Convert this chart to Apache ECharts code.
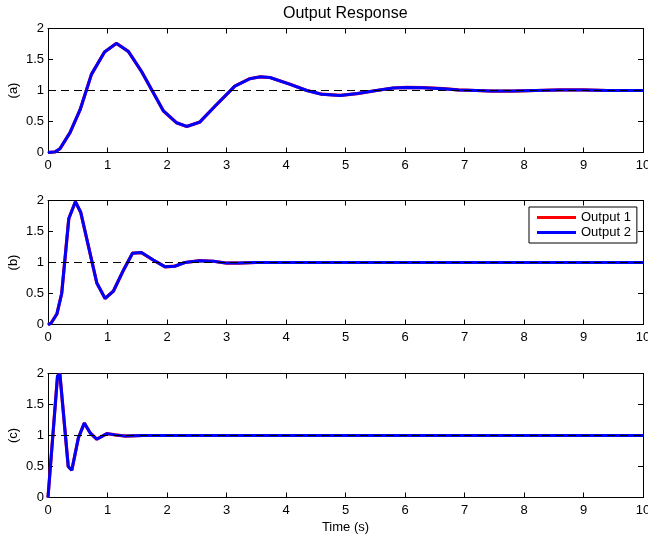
<!DOCTYPE html>
<html>
<head>
<meta charset="utf-8">
<script src="https://cdn.jsdelivr.net/npm/echarts@6/dist/echarts.min.js"></script>
<style>
html,body{margin:0;padding:0;background:#fff;}
#chart{width:648px;height:535px;}
</style>
</head>
<body>
<div id="chart"></div>
<script>
// ---- Data ----
const titleText = 'Output Response';
const panelLabels = ['(a)', '(b)', '(c)'];
const xLabel = 'Time (s)';
const seriesNames = ['Output 1', 'Output 2'];

const timeA = [0, 0.12, 0.2, 0.37, 0.54, 0.73, 0.95, 1.15, 1.35, 1.57, 1.94, 2.16, 2.33, 2.55, 2.83, 3.14, 3.39, 3.56, 3.73, 4.07, 4.35, 4.6, 4.91, 5.2, 5.52, 5.8, 6.03, 6.3, 6.64, 6.9, 7.2, 7.45, 7.8, 8.2, 8.6, 9.0, 9.4, 9.8, 10];
const respA = [0, 0.01, 0.06, 0.32, 0.69, 1.26, 1.62, 1.76, 1.63, 1.31, 0.67, 0.48, 0.42, 0.49, 0.77, 1.07, 1.19, 1.22, 1.21, 1.10, 1.0, 0.94, 0.92, 0.95, 1.0, 1.04, 1.05, 1.045, 1.03, 1.01, 1.0, 0.99, 0.99, 1.0, 1.01, 1.01, 1.0, 1.0, 1.0];

const timeB = [0, 0.05, 0.15, 0.23, 0.35, 0.46, 0.55, 0.82, 0.96, 1.10, 1.27, 1.42, 1.57, 1.77, 1.97, 2.13, 2.3, 2.55, 2.78, 3.0, 3.2, 3.5, 4, 5, 6, 7, 8, 9, 10];
const respB = [0, 0.02, 0.17, 0.5, 1.71, 1.98, 1.81, 0.67, 0.42, 0.54, 0.88, 1.15, 1.16, 1.04, 0.93, 0.94, 1.0, 1.03, 1.02, 0.99, 0.99, 1.0, 1.0, 1.0, 1.0, 1.0, 1.0, 1.0, 1.0];

const timeC = [0, 0.02, 0.16, 0.2, 0.34, 0.40, 0.51, 0.61, 0.71, 0.82, 0.99, 1.13, 1.3, 1.6, 2, 3, 4, 5, 6, 7, 8, 9, 10];
const respC = [0, 0.01, 1.96, 1.99, 0.50, 0.44, 0.96, 1.20, 1.04, 0.94, 1.03, 1.01, 0.99, 1.0, 1.0, 1.0, 1.0, 1.0, 1.0, 1.0, 1.0, 1.0, 1.0];

const refTime = [0, 10];
const refValue = [1, 1];

const xTicks = {min: 0, max: 10, interval: 1};
const yTicks = {min: 0, max: 2, interval: 0.5};

// ---- Build options ----
const panels = [[timeA, respA], [timeB, respB], [timeC, respC]];
const pair = (t, v) => t.map((x, i) => [x, v[i]]);
const gridTops = [28.5, 200.5, 373.5];
const FONT = 'Liberation Sans, Arial, Helvetica, sans-serif';

const grids = [], xAxes = [], yAxes = [], series = [];
panels.forEach((p, k) => {
  grids.push({left: 48, top: gridTops[k], width: 595, height: 124, containLabel: false, outerBoundsMode: 'none'});
  const baseX = {
    type: 'value', gridIndex: k, min: xTicks.min, max: xTicks.max, interval: xTicks.interval,
    axisLine: {show: true, onZero: false, lineStyle: {color: '#000', width: 1}},
    axisTick: {show: true, inside: true, length: 5, lineStyle: {color: '#000'}},
    splitLine: {show: false}
  };
  xAxes.push(Object.assign({}, baseX, {
    position: 'bottom',
    axisLabel: {show: true, color: '#000', fontSize: 13, fontFamily: FONT, margin: 6},
    name: k === 2 ? xLabel : '', nameLocation: 'middle', nameGap: 23, nameMoveOverlap: false,
    nameTextStyle: {color: '#000', fontSize: 13, fontFamily: FONT}
  }));
  xAxes.push(Object.assign({}, baseX, {position: 'top', axisLabel: {show: false}}));
  const baseY = {
    type: 'value', gridIndex: k, min: yTicks.min, max: yTicks.max, interval: yTicks.interval,
    axisLine: {show: true, onZero: false, lineStyle: {color: '#000', width: 1}},
    axisTick: {show: true, inside: true, length: 5, lineStyle: {color: '#000'}},
    splitLine: {show: false}
  };
  yAxes.push(Object.assign({}, baseY, {
    position: 'left',
    axisLabel: {show: true, color: '#000', fontSize: 13, fontFamily: FONT, margin: 4},
    name: panelLabels[k], nameLocation: 'middle', nameRotate: 90, nameGap: 28, nameMoveOverlap: false,
    nameTextStyle: {color: '#000', fontSize: 13, fontFamily: FONT}
  }));
  yAxes.push(Object.assign({}, baseY, {position: 'right', axisLabel: {show: false}}));

  const data = pair(p[0], p[1]);
  series.push({
    name: seriesNames[0], type: 'line', xAxisIndex: 2 * k, yAxisIndex: 2 * k,
    data: data, showSymbol: false, symbol: 'none', smooth: false,
    lineStyle: {color: '#ff0000', width: 3.2}, itemStyle: {color: '#ff0000'},
    silent: true, animation: false, z: 2
  });
  series.push({
    name: seriesNames[1], type: 'line', xAxisIndex: 2 * k, yAxisIndex: 2 * k,
    data: data, showSymbol: false, symbol: 'none', smooth: false,
    lineStyle: {color: '#0000ff', width: 3}, itemStyle: {color: '#0000ff'},
    silent: true, animation: false, z: 3
  });
  series.push({
    name: 'ref' + k, type: 'line', xAxisIndex: 2 * k, yAxisIndex: 2 * k,
    data: pair(refTime, refValue), showSymbol: false, symbol: 'none',
    lineStyle: {color: '#000', width: 1, type: [8, 5]},
    silent: true, animation: false, z: 4
  });
});

const chart = echarts.init(document.getElementById('chart'), null, {renderer: 'canvas'});
chart.setOption({
  animation: false,
  backgroundColor: '#fff',
  title: {
    text: titleText, left: 283, top: 6, padding: 0,
    textStyle: {color: '#000', fontSize: 16, fontWeight: 'normal', fontFamily: FONT}
  },
  legend: {
    data: [
      {name: seriesNames[0], icon: 'rect', itemStyle: {color: '#ff0000'}},
      {name: seriesNames[1], icon: 'rect', itemStyle: {color: '#0000ff'}}
    ],
    orient: 'vertical', left: 529, top: 207,
    itemWidth: 39, itemHeight: 3, itemGap: 2,
    padding: [4, 6, 4, 8],
    borderColor: '#000', borderWidth: 1, backgroundColor: '#fff',
    textStyle: {color: '#000', fontSize: 13, fontFamily: FONT, padding: [0, 0, 0, 0]},
    selectedMode: false, z: 10
  },
  grid: grids, xAxis: xAxes, yAxis: yAxes, series: series
});
</script>
</body>
</html>
